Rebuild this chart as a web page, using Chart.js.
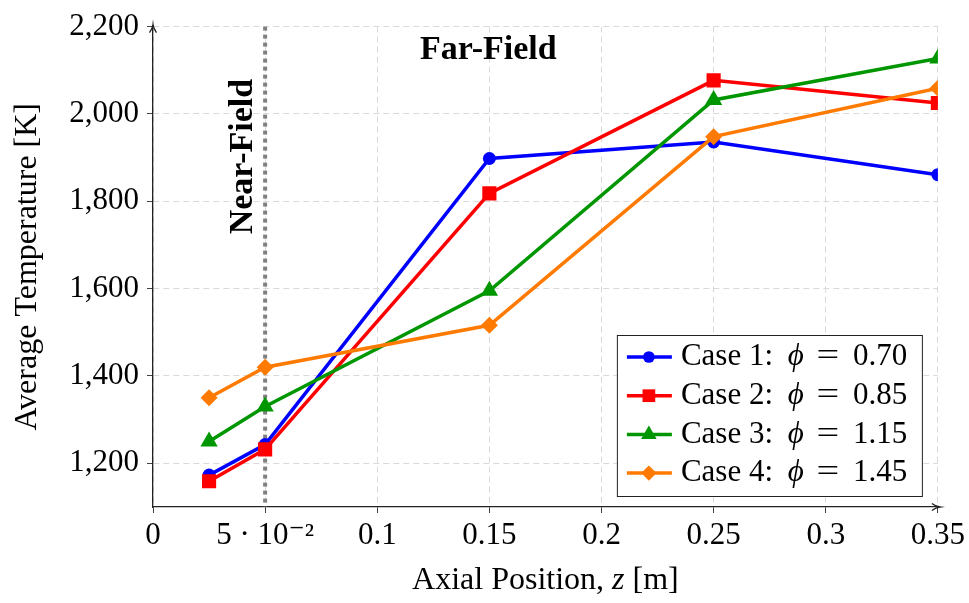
<!DOCTYPE html>
<html>
<head>
<meta charset="utf-8">
<script src="https://cdn.jsdelivr.net/npm/chart.js@4.4.1/dist/chart.umd.min.js"></script>
<style>
    html, body { margin: 0; padding: 0; background: #fff; }
    #wrap { width: 969px; height: 603px; }
</style>
</head>
<body>
<div id="wrap"><canvas id="chartTemp" width="969" height="603"></canvas></div>
<script>
// data
const positions = [0.025, 0.05, 0.15, 0.25, 0.35];
const case1Temps = [1173, 1243, 1898, 1936, 1861];
const case2Temps = [1159, 1232, 1818, 2077, 2025];
const case3Temps = [1250, 1330, 1595, 2032, 2127];
const case4Temps = [1350, 1420, 1516, 1948, 2059];

const caseLabels = ["Case 1:", "Case 2:", "Case 3:", "Case 4:"];
const phiValues = ["0.70", "0.85", "1.15", "1.45"];

const xTicks = [0, 0.05, 0.1, 0.15, 0.2, 0.25, 0.3, 0.35];
const yTicks = [1200, 1400, 1600, 1800, 2000, 2200];
const nearFieldEdge = 0.05;

const FONT = "'Liberation Serif', 'DejaVu Serif', serif";

const seriesStyle = [
    { color: "#0000ff", shape: "circle", r: 6.5 },
    { color: "#ff0000", shape: "rect", r: 10 },
    { color: "#009600", shape: "triangle", r: 10 },
    { color: "#ff7a00", shape: "rectRot", r: 8.5 }
];

const allTemps = [case1Temps, case2Temps, case3Temps, case4Temps];

const datasets = allTemps.map((temps, i) => ({
    label: caseLabels[i] + " \u03D5 = " + phiValues[i],
    data: positions.map((x, j) => ({ x: x, y: temps[j] })),
    borderColor: seriesStyle[i].color,
    backgroundColor: seriesStyle[i].color,
    pointBackgroundColor: seriesStyle[i].color,
    pointBorderColor: seriesStyle[i].color,
    pointBorderWidth: 0,
    pointStyle: seriesStyle[i].shape,
    pointRadius: seriesStyle[i].r,
    borderWidth: 3.5,
    tension: 0,
    order: 4 - i
}));

function fmtX(v) {
    if (Math.abs(v) < 1e-9) return "0";
    if (Math.abs(v - 0.05) < 1e-9) return "5 \u00B7 10\u207B\u00B2";
    return String(Number(v.toFixed(2)));
}

const decorPlugin = {
    id: "decor",
    beforeDatasetsDraw(chart) {
        const { ctx, chartArea: a, scales: { x } } = chart;
        const px = x.getPixelForValue(nearFieldEdge);
        ctx.save();
        ctx.strokeStyle = "#808080";
        ctx.lineWidth = 4;
        ctx.setLineDash([4, 4]);
        ctx.beginPath();
        ctx.moveTo(px, a.top);
        ctx.lineTo(px, a.bottom);
        ctx.stroke();
        ctx.restore();

        // teks Near-Field / Far-Field
        ctx.save();
        ctx.fillStyle = "#000";
        ctx.font = "bold 34px " + FONT;
        ctx.textAlign = "center";
        ctx.textBaseline = "middle";
        ctx.translate(px - 22, a.top + 130);
        ctx.rotate(-Math.PI / 2);
        ctx.fillText("Near-Field", 0, 0);
        ctx.restore();

        ctx.save();
        ctx.fillStyle = "#000";
        ctx.font = "bold 34px " + FONT;
        ctx.textAlign = "center";
        ctx.textBaseline = "middle";
        ctx.fillText("Far-Field", x.getPixelForValue(0.15) - 1, a.top + 24);
        ctx.restore();
    },
    afterDraw(chart) {
        const { ctx, chartArea: a } = chart;

        // panah sumbu
        ctx.save();
        ctx.strokeStyle = "#222";
        ctx.lineWidth = 1.3;
        ctx.beginPath();
        ctx.moveTo(a.left - 3.5, a.top + 6);
        ctx.quadraticCurveTo(a.left - 0.5, a.top + 2, a.left, a.top - 2);
        ctx.quadraticCurveTo(a.left + 0.5, a.top + 2, a.left + 3.5, a.top + 6);
        ctx.moveTo(a.left, a.top - 2);
        ctx.lineTo(a.left, a.top);
        ctx.moveTo(a.right - 6, a.bottom - 3.5);
        ctx.quadraticCurveTo(a.right - 2, a.bottom - 0.5, a.right + 2, a.bottom);
        ctx.quadraticCurveTo(a.right - 2, a.bottom + 0.5, a.right - 6, a.bottom + 3.5);
        ctx.moveTo(a.right, a.bottom);
        ctx.lineTo(a.right + 2, a.bottom);
        ctx.stroke();
        ctx.restore();

        // judul sumbu x dengan z miring
        ctx.save();
        ctx.fillStyle = "#000";
        ctx.textBaseline = "middle";
        const parts = [
            { t: "Axial Position, ", f: "32px " + FONT },
            { t: "z", f: "italic 32px " + FONT },
            { t: " [m]", f: "32px " + FONT }
        ];
        let total = 0;
        parts.forEach(p => { ctx.font = p.f; p.w = ctx.measureText(p.t).width; total += p.w; });
        let cx = (a.left + a.right) / 2 - total / 2;
        parts.forEach(p => { ctx.font = p.f; ctx.fillText(p.t, cx, 581); cx += p.w; });
        ctx.restore();

        // legenda
        const boxW = 305, boxH = 161;
        const bx = a.right - 16 - boxW, by = a.bottom - 11 - boxH;
        ctx.save();
        ctx.fillStyle = "#fff";
        ctx.fillRect(bx, by, boxW, boxH);
        ctx.strokeStyle = "#222";
        ctx.lineWidth = 1;
        ctx.strokeRect(bx + 0.5, by + 0.5, boxW, boxH);
        ctx.textBaseline = "middle";
        caseLabels.forEach((lab, i) => {
            const st = seriesStyle[i];
            const ry = by + 22 + i * 38.7;
            ctx.strokeStyle = st.color;
            ctx.lineWidth = 3.5;
            ctx.beginPath();
            ctx.moveTo(bx + 10, ry);
            ctx.lineTo(bx + 55, ry);
            ctx.stroke();
            ctx.fillStyle = st.color;
            ctx.strokeStyle = st.color;
            Chart.helpers.drawPoint(ctx, { pointStyle: st.shape, radius: st.r * 0.9, borderWidth: 0 }, bx + 32, ry);
            ctx.fillStyle = "#000";
            ctx.textAlign = "left";
            ctx.font = "31px " + FONT;
            ctx.fillText(lab, bx + 64, ry);
            ctx.textAlign = "center";
            ctx.font = "italic 31px " + FONT;
            ctx.fillText("\u03D5", bx + 179, ry);
            ctx.font = "31px " + FONT;
            ctx.save();
            ctx.translate(bx + 211, ry);
            ctx.scale(1.3, 1);
            ctx.fillText("=", 0, 0);
            ctx.restore();
            ctx.textAlign = "left";
            ctx.fillText(phiValues[i], bx + 236, ry);
        });
        ctx.restore();
    }
};

new Chart(document.getElementById("chartTemp"), {
    type: "line",
    data: { datasets: datasets },
    options: {
        responsive: false,
        devicePixelRatio: 1,
        animation: false,
        layout: { padding: { top: 22, right: 29, left: 0, bottom: 0 } },
        plugins: {
            legend: { display: false },
            tooltip: { enabled: false }
        },
        scales: {
            x: {
                type: "linear",
                min: 0,
                max: 0.35,
                afterBuildTicks: (s) => { s.ticks = xTicks.map(v => ({ value: v })); },
                afterFit: (s) => { s.height = 96; },
                ticks: {
                    callback: (v) => fmtX(v),
                    color: "#000",
                    font: { family: FONT, size: 31 },
                    padding: 4,
                    maxRotation: 0,
                    autoSkip: false
                },
                grid: { color: "#d9d9d9", lineWidth: 1, tickLength: 6, tickColor: "#444" },
                border: { color: "#222", width: 1.3, dash: [6, 4] }
            },
            y: {
                min: 1100,
                max: 2200,
                afterBuildTicks: (s) => { s.ticks = yTicks.map(v => ({ value: v })); },
                afterFit: (s) => { s.width = 153; },
                ticks: {
                    callback: (v) => v.toLocaleString("en-US"),
                    color: "#000",
                    font: { family: FONT, size: 31 },
                    padding: 8
                },
                title: {
                    display: true,
                    text: "Average Temperature [K]",
                    color: "#000",
                    font: { family: FONT, size: 32 },
                    padding: { top: 8, bottom: 0 }
                },
                grid: { color: "#d9d9d9", lineWidth: 1, tickLength: 6, tickColor: "#444" },
                border: { color: "#222", width: 1.3, dash: [6, 4] }
            }
        }
    },
    plugins: [decorPlugin]
});
</script>
</body>
</html>
